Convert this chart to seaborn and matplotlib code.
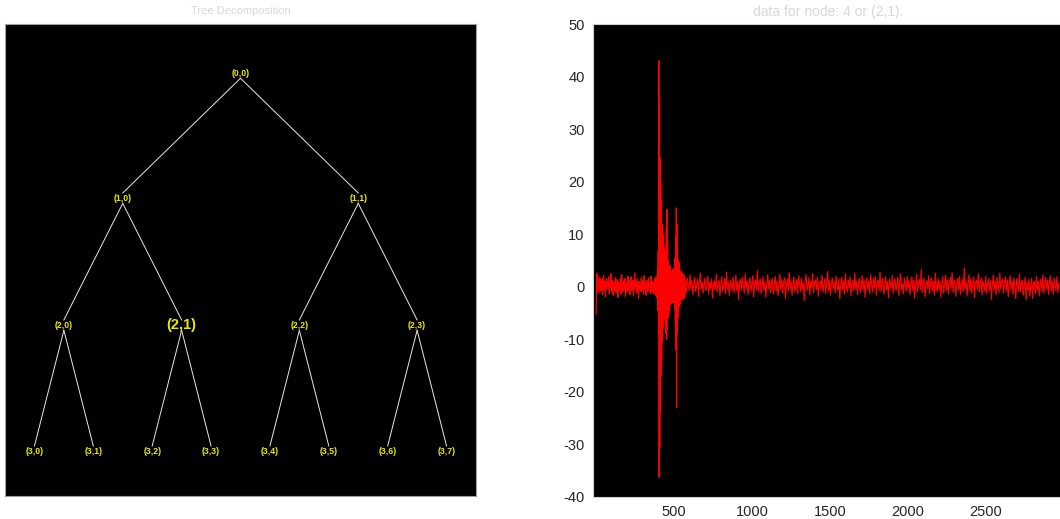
import numpy as np
import pandas as pd
import matplotlib
matplotlib.use("Agg")
import matplotlib.pyplot as plt
import seaborn as sns

# ---------------- data ----------------
tree_depth = 3
highlight_node = (2, 1)
left_title = "Tree Decomposition"
right_title = "data for node: 4 or (2,1)."

# signal segments
seg_a_start, seg_a_step = 1, 4
seg_a = [-5.2, 2.6, -0.9, 2.1, 0.4, -1.2, 1.7, 0.1, -0.8, 1.4,
         -1.5, 0.9, 2.2, -0.6, 1.1, -1.9, 0.7, 1.5, -0.4, 0.2,
         1.9, -1.3, 0.8, -0.2, 2.5, -0.9, 1.2, -1.6, 0.5, 1.0,
         -0.7, 1.8, -1.1, 0.3, 1.4, -2.0, 0.9, 0.6, -0.5, 1.7,
         -1.4, 2.3, 0.2, -0.9, 1.1, -0.3, 1.6, -1.8, 0.8, 0.4,
         -1.0, 2.0, -0.6, 1.3, -1.5, 0.7, 1.9, -0.8, 0.1, 1.2,
         -1.7, 0.6, 2.7, -0.4, 0.9, -1.2, 1.5, 0.3, -2.2, 1.0,
         0.5, -0.7, 1.8, -1.0, 0.2, 1.4, -1.3, 2.1, -0.5, 0.8,
         -1.6, 1.2, 0.4, -0.9, 1.7, -0.2, 0.6, -1.4, 2.0, -0.8,
         1.1, -1.2, 0.7]

seg_b_start, seg_b_step = 371, 2
seg_b = [0.8, -1.2, 1.5, -0.6, 1.1, -1.6, 0.4, 1.9, -1.3, 0.7, -2.1, 1.4,
         3.2, -4.5, 6.8, -9.5, 43.0, -36.3, 35.7, -30.5, 24.6, -23.5,
         20.0, -17.0, 16.5, -14.0, 12.0, -10.5, 9.0, -8.0, 10.0, -7.0,
         8.0, -6.5, 5.5, -6.0, 7.0, -5.0, 6.0, -9.0, 11.0, -10.0,
         14.7, -8.0, 9.0, -6.0, 5.0, -4.5, 4.0, -5.0, 3.5, -3.0,
         4.0, -3.5, 2.8, -3.2, 2.5, -2.9, 3.1, -2.4, 2.2, -3.0,
         3.4, -2.6, 2.9, -3.1, 3.8, -4.2, 5.5, -7.0, 9.5, -12.0,
         15.0, -23.0, 12.0, -9.0, 7.0, -6.0, 5.0, -4.2, 3.6, -3.8,
         4.4, -3.0, 2.7, -3.3, 2.4, -2.2, 3.0, -2.5, 2.1, -1.9,
         2.6, -2.2, 1.8, -2.4, 2.3, -1.5, 1.9, -2.0, 1.6]

seg_c_start, seg_c_step = 573, 6
seg_c = [0.9, -1.1, 1.6, 0.2, -0.7, 2.3, -0.4, 1.2, -1.5, 0.6, 1.8, -0.9, 0.3, 1.4, -1.8, 0.8, 2.6, -0.5, 1.0, -1.2,
         0.5, 1.7, -0.8, 0.1, 2.0, -1.4, 0.9, -0.3, 1.5, -2.1, 0.7, 1.1, -0.6, 2.4, -1.0, 0.4, 1.3, -1.7, 0.6, 1.9,
         -0.9, 0.2, 1.6, -1.3, 2.8, -0.4, 0.8, -1.6, 1.2, 0.3, -0.7, 1.9, -1.1, 0.5, 2.2, -0.8, 1.0, -2.4, 0.9, 1.4,
         -0.5, 1.8, 0.1, -1.2, 2.5, -0.3, 1.1, -1.5, 0.6, 1.7, -0.9, 0.4, 2.1, -1.9, 0.8, 1.3, -0.6, 3.1, -1.0, 0.7,
         1.5, -1.3, 0.2, 1.9, -0.7, 1.0, -2.0, 0.5, 2.3, -0.4, 1.2, -1.1, 0.8, 1.6, -1.4, 0.3, 2.0, -0.9, 1.1, -1.7,
         0.6, 2.4, -0.5, 1.3, -1.2, 0.9, 1.7, -2.2, 0.4, 1.5, -0.8, 2.7, -0.3, 1.0, -1.6, 0.7, 1.9, -1.0, 0.2, 1.4,
         -1.3, 2.1, 0.5, -0.9, 1.6, -0.4, 0.8, -2.6, 1.2, 2.3, -0.7, 0.3, 1.8, -1.5, 1.0, -0.2, 2.5, -1.1, 0.6, 1.3,
         -0.6, 1.9, -1.8, 0.7, 1.1, -0.5, 2.2, -1.0, 0.4, 1.6, -1.3, 0.9, 2.9, -0.8, 1.2, -1.6, 0.5, 1.7, -0.4, 1.0,
         -1.2, 2.0, 0.3, -0.7, 1.5, -2.3, 0.8, 1.8, -0.6, 1.1, -1.4, 2.4, 0.2, -0.9, 1.3, -0.3, 1.9, -1.7, 0.6, 1.2,
         -0.8, 2.6, -0.4, 1.0, -1.5, 0.7, 1.6, -1.1, 0.3, 2.1, -0.6, 1.4, -2.0, 0.9, 1.7, -0.5, 1.1, -1.3, 2.3, 0.4,
         -1.0, 1.5, -0.2, 2.0, -1.6, 0.8, 1.2, -0.7, 2.8, -0.9, 0.5, 1.6, -1.4, 0.3, 1.9, -0.6, 1.0, -2.1, 1.4, 0.7,
         -0.4, 2.2, -1.2, 0.9, 1.5, -0.8, 0.2, 1.8, -1.7, 1.1, 2.5, -0.5, 0.6, -1.3, 1.7, 0.4, -0.9, 2.0, -0.3, 1.2,
         -1.5, 0.8, 1.9, -0.7, 1.3, -2.2, 0.5, 2.4, -1.0, 0.9, 1.4, -0.6, 3.3, -1.1, 0.7, 1.6, -1.9, 0.3, 1.2, -0.4,
         2.1, -1.3, 0.6, 1.7, -0.8, 1.0, -1.6, 2.6, 0.2, -0.9, 1.5, -0.5, 1.1, -2.0, 0.8, 1.9, -1.2, 0.4, 2.2, -0.7,
         1.3, -1.4, 0.5, 1.8, -0.3, 2.7, -1.1, 0.9, 1.2, -1.8, 0.6, 1.6, -0.6, 2.0, -1.5, 0.3, 1.4, -0.9, 3.6, -0.5,
         1.0, -1.7, 0.7, 2.3, -0.8, 1.5, -1.2, 0.4, 1.9, -2.1, 0.9, 1.3, -0.4, 2.5, -1.0, 0.6, 1.7, -1.6, 1.1, 0.2,
         -0.9, 2.0, -1.3, 0.8, 1.6, -0.7, 1.2, -2.4, 0.5, 2.2, -0.6, 1.0, -1.5, 1.8, 0.3, -1.1, 2.6, -0.4, 0.9, 1.4,
         -1.2, 0.7, 1.9, -0.8, 1.3, -1.9, 0.4, 2.1, -0.5, 1.1, -1.4, 1.7, 0.2, -2.3, 1.5, 0.6, -0.9, 2.4, -1.0, 0.8,
         1.2, -1.6, 0.5, 1.8, -2.5, 0.9, -0.7, 1.4, -1.8, 0.3, 1.6, -2.2, 0.7, 1.0, -1.3, 2.0, -0.6, 1.1, -1.7, 0.4,
         1.5, -0.9, 2.3, -1.2, 0.6, 1.8, -0.5, 1.3, -1.5, 0.8, 2.1, -0.7, 1.0, -1.4, 1.7, 0.2, -0.8, 1.9, -1.1, 0.6]

x_ticks = [500, 1000, 1500, 2000, 2500]
y_ticks = [-40, -30, -20, -10, 0, 10, 20, 30, 40, 50]
x_limits = (-19, 2990)
y_limits = (-40, 50)

# ---------------- build frames ----------------
def seg_frame(start, step, vals):
    return pd.DataFrame({"idx": start + step * np.arange(len(vals)), "value": vals})

signal = pd.concat([seg_frame(seg_a_start, seg_a_step, seg_a),
                    seg_frame(seg_b_start, seg_b_step, seg_b),
                    seg_frame(seg_c_start, seg_c_step, seg_c)], ignore_index=True)

plt.rcParams['font.family'] = ['Liberation Sans', 'DejaVu Sans']
plt.rcParams['axes.unicode_minus'] = False

W, H = 1060, 519
fig = plt.figure(figsize=(W / 100, H / 100), dpi=100)
fig.patch.set_facecolor("white")

# ---------------- left: tree ----------------
axL = fig.add_axes([5 / W, (H - 496) / H, 471 / W, 472 / H])
axL.set_facecolor("black")
axL.set_xlim(0, 1)
axL.set_ylim(0, 1)
axL.set_xticks([])
axL.set_yticks([])
for s in axL.spines.values():
    s.set_color("#a0a0a0")
    s.set_linewidth(0.8)

level_y = {0: 0.896, 1: 0.631, 2: 0.362, 3: 0.095}

def node_pos(d, k):
    return (k + 0.5) / 2 ** d, level_y[d]

off = 0.011
for d in range(tree_depth):
    for k in range(2 ** d):
        px, py = node_pos(d, k)
        for c in (2 * k, 2 * k + 1):
            cx, cy = node_pos(d + 1, c)
            edge = pd.DataFrame({"x": [px, cx], "y": [py - off, cy + off]})
            sns.lineplot(data=edge, x="x", y="y", ax=axL, color="#e8e8e8",
                         linewidth=0.7, estimator=None, sort=False)

for d in range(tree_depth + 1):
    for k in range(2 ** d):
        px, py = node_pos(d, k)
        big = (d, k) == highlight_node
        axL.text(px, py, f"({d},{k})", ha="center", va="center",
                 color="#eaea00", fontsize=10.5 if big else 6.3,
                 fontweight="bold")
axL.set_xlabel("")
axL.set_ylabel("")
axL.set_title(left_title, color="#d8d8d8", fontsize=8, pad=7)

# ---------------- right: signal ----------------
x0 = 593
px_per_unit = 0.156
right_px = x0 + (x_limits[1] - x_limits[0]) * px_per_unit
axR = fig.add_axes([x0 / W, (H - 497) / H, (right_px - x0) / W, 473 / H])
axR.set_facecolor("black")
sns.lineplot(data=signal, x="idx", y="value", ax=axR, color="#ff0000",
             linewidth=0.85, estimator=None, sort=False)
axR.set_xlim(*x_limits)
axR.set_ylim(*y_limits)
axR.set_xticks(x_ticks)
axR.set_yticks(y_ticks)
axR.tick_params(length=0, labelsize=10.5, labelcolor="#262626", pad=6)
axR.set_xlabel("")
axR.set_ylabel("")
for s in axR.spines.values():
    s.set_color("#d0d0d0")
    s.set_linewidth(0.8)
axR.set_title(right_title, color="#d8d8d8", fontsize=10, pad=6)

fig.savefig("out.png", dpi=100, facecolor="white")
